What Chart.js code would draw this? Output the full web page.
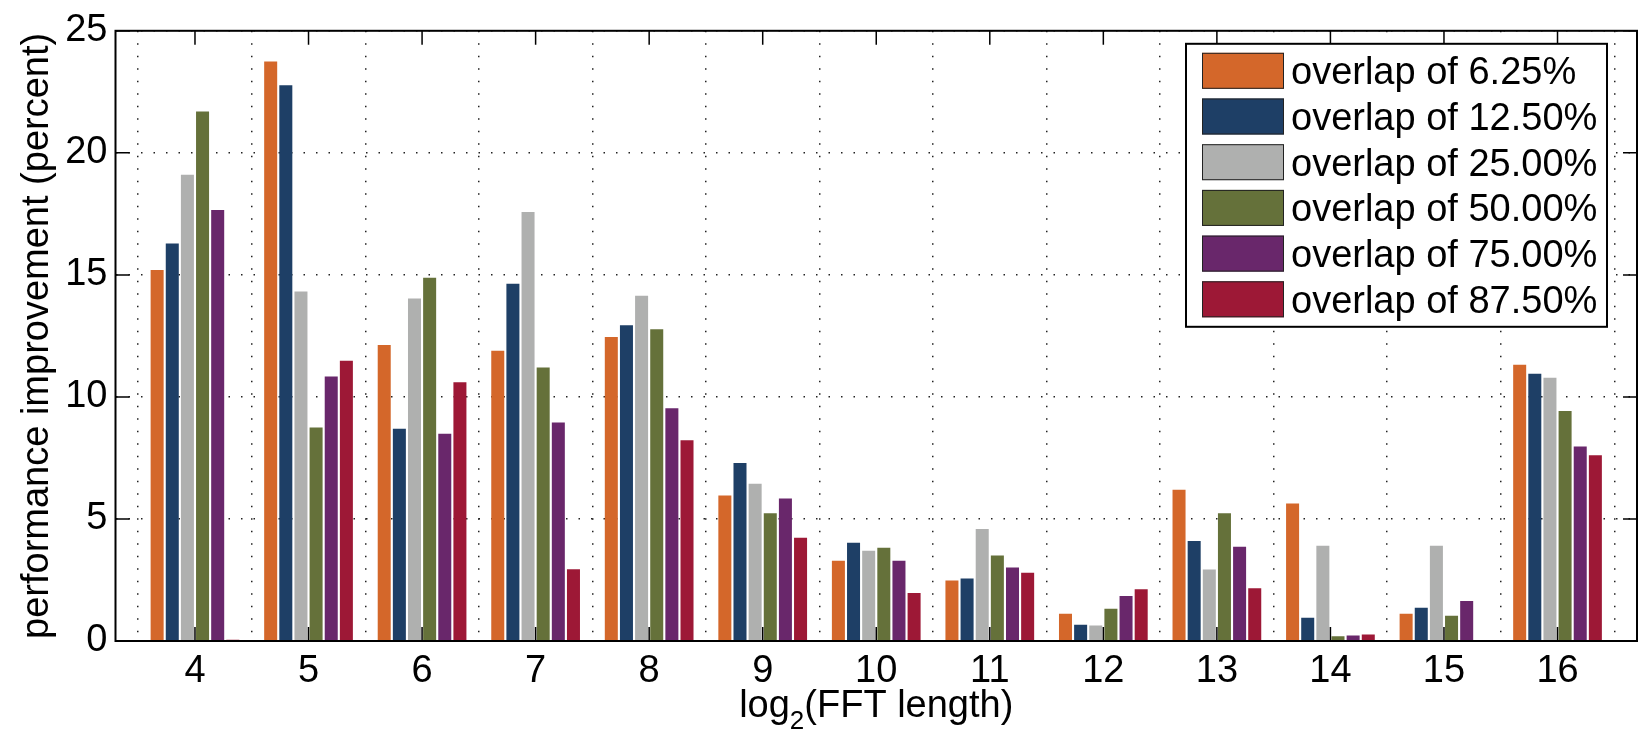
<!DOCTYPE html>
<html>
<head>
<meta charset="utf-8">
<script src="https://cdn.jsdelivr.net/npm/chart.js@4.4.1/dist/chart.umd.min.js"></script>
<style>
  html, body { margin: 0; padding: 0; background: #ffffff; }
  #wrap { width: 1638px; height: 733px; position: relative; }
</style>
</head>
<body>
<div id="wrap"><canvas id="c"></canvas></div>
<script>
// ---- data ----
const categories = [4, 5, 6, 7, 8, 9, 10, 11, 12, 13, 14, 15, 16];
const seriesLabels = ['overlap of 6.25%', 'overlap of 12.50%', 'overlap of 25.00%',
                      'overlap of 50.00%', 'overlap of 75.00%', 'overlap of 87.50%'];
const overlap0625 = [15.20, 23.74, 12.13, 11.89, 12.45, 5.96, 3.29, 2.48, 1.12, 6.20, 5.63, 1.12, 11.32];
const overlap1250 = [16.29, 22.77, 8.70, 14.64, 12.94, 7.29, 4.03, 2.56, 0.67, 4.10, 0.95, 1.36, 10.95];
const overlap2500 = [19.10, 14.32, 14.03, 17.58, 14.15, 6.44, 3.70, 4.59, 0.63, 2.93, 3.90, 3.90, 10.79];
const overlap5000 = [21.69, 8.75, 14.88, 11.21, 12.77, 5.23, 3.82, 3.50, 1.32, 5.23, 0.19, 1.03, 9.42];
const overlap7500 = [17.66, 10.84, 8.49, 8.95, 9.54, 5.84, 3.29, 3.01, 1.84, 3.86, 0.23, 1.64, 7.97];
const overlap8750 = [0.05, 11.48, 10.60, 2.94, 8.22, 4.23, 1.97, 2.80, 2.12, 2.16, 0.27, 0.04, 7.61];
const yTickValues = [0, 5, 10, 15, 20, 25];
const seriesColors = ['#D4672A', '#1E3F66', '#AFB0AF', '#65713A', '#69276B', '#9D1836'];
const xTitleMain = 'log';
const xTitleSub = '2';
const xTitleRest = '(FFT length)';
const yTitle = 'performance improvement (percent)';

const allSeries = [overlap0625, overlap1250, overlap2500, overlap5000, overlap7500, overlap8750];
const FONT = '"Liberation Sans", Arial, Helvetica, sans-serif';

const datasets = allSeries.map((vals, k) => ({
  label: seriesLabels[k],
  data: categories.map((c, i) => ({ x: c, y: vals[i] })),
  backgroundColor: seriesColors[k],
  borderWidth: 0,
  categoryPercentage: 0.8,
  barPercentage: 0.86
}));

// box + inward ticks (MATLAB style)
const boxPlugin = {
  id: 'box',
  afterDatasetsDraw(chart) {
    const { ctx, chartArea: a, scales } = chart;
    const tl = 14;
    ctx.save();
    ctx.strokeStyle = '#000';
    ctx.lineWidth = 1.5;
    ctx.beginPath();
    categories.forEach(v => {
      const px = scales.x.getPixelForValue(v);
      ctx.moveTo(px, a.bottom); ctx.lineTo(px, a.bottom - tl);
      ctx.moveTo(px, a.top); ctx.lineTo(px, a.top + tl);
    });
    yTickValues.forEach(v => {
      const py = scales.y.getPixelForValue(v);
      ctx.moveTo(a.left, py); ctx.lineTo(a.left + tl, py);
      ctx.moveTo(a.right, py); ctx.lineTo(a.right - tl, py);
    });
    ctx.stroke();
    ctx.lineWidth = 2;
    ctx.strokeRect(a.left, a.top, a.right - a.left, a.bottom - a.top);
    ctx.restore();
  },
  afterDraw(chart) {
    const { ctx, chartArea: a } = chart;
    // x axis title with subscript
    ctx.save();
    ctx.fillStyle = '#000';
    ctx.textBaseline = 'alphabetic';
    const fMain = '38px ' + FONT, fSub = '26px ' + FONT;
    ctx.font = fMain;
    const w1 = ctx.measureText(xTitleMain).width;
    const w3 = ctx.measureText(xTitleRest).width;
    ctx.font = fSub;
    const w2 = ctx.measureText(xTitleSub).width;
    const total = w1 + w2 + w3;
    let x = (a.left + a.right) / 2 - total / 2;
    const base = 717;
    ctx.font = fMain; ctx.textAlign = 'left';
    ctx.fillText(xTitleMain, x, base); x += w1;
    ctx.font = fSub; ctx.fillText(xTitleSub, x, base + 12); x += w2;
    ctx.font = fMain; ctx.fillText(xTitleRest, x, base);
    ctx.restore();

    // legend inside plot
    const ds = chart.data.datasets;
    const bx = a.right - 451, by = a.top + 13, bw = 421, bh = 283;
    ctx.save();
    ctx.fillStyle = '#fff';
    ctx.fillRect(bx, by, bw, bh);
    ctx.strokeStyle = '#000';
    ctx.lineWidth = 2;
    ctx.strokeRect(bx, by, bw, bh);
    const rowH = 45.7;
    ds.forEach((d, i) => {
      const sy = by + 9 + i * rowH;
      ctx.fillStyle = d.backgroundColor;
      ctx.fillRect(bx + 16, sy, 82, 36);
      ctx.strokeStyle = '#222';
      ctx.lineWidth = 1;
      ctx.strokeRect(bx + 16.5, sy + 0.5, 81, 35);
      ctx.fillStyle = '#000';
      ctx.font = '38px ' + FONT;
      ctx.textAlign = 'left';
      ctx.textBaseline = 'alphabetic';
      ctx.fillText(d.label, bx + 105, sy + 31.5);
    });
    ctx.restore();
  }
};

new Chart(document.getElementById('c'), {
  type: 'bar',
  data: { datasets },
  options: {
    responsive: true,
    maintainAspectRatio: false,
    devicePixelRatio: 1,
    animation: false,
    layout: { padding: { top: 22, right: 1, left: 0, bottom: 0 } },
    plugins: { legend: { display: false }, tooltip: { enabled: false } },
    scales: {
      x: {
        type: 'linear',
        min: 3.3,
        max: 16.7,
        offset: false,
        afterBuildTicks: s => { s.ticks = categories.map(v => ({ value: v })); },
        afterFit: s => { s.height = 92; },
        grid: { display: true, drawTicks: false, color: '#222', lineWidth: 1.5 },
        border: { display: false, dash: [1.5, 11] },
        ticks: { color: '#000', font: { family: FONT, size: 38 }, padding: 8, maxRotation: 0, autoSkip: false }
      },
      y: {
        min: 0,
        max: 25,
        afterBuildTicks: s => { s.ticks = yTickValues.map(v => ({ value: v })); },
        afterFit: s => { s.width = 115.5; },
        grid: { display: true, drawTicks: false, color: '#222', lineWidth: 1.5 },
        border: { display: false, dash: [1.5, 11] },
        ticks: { color: '#000', font: { family: FONT, size: 38 }, padding: 8 },
        title: { display: true, text: yTitle, color: '#000', font: { family: FONT, size: 38 }, padding: { top: 15, bottom: 0 } }
      }
    }
  },
  plugins: [boxPlugin]
});
</script>
</body>
</html>
